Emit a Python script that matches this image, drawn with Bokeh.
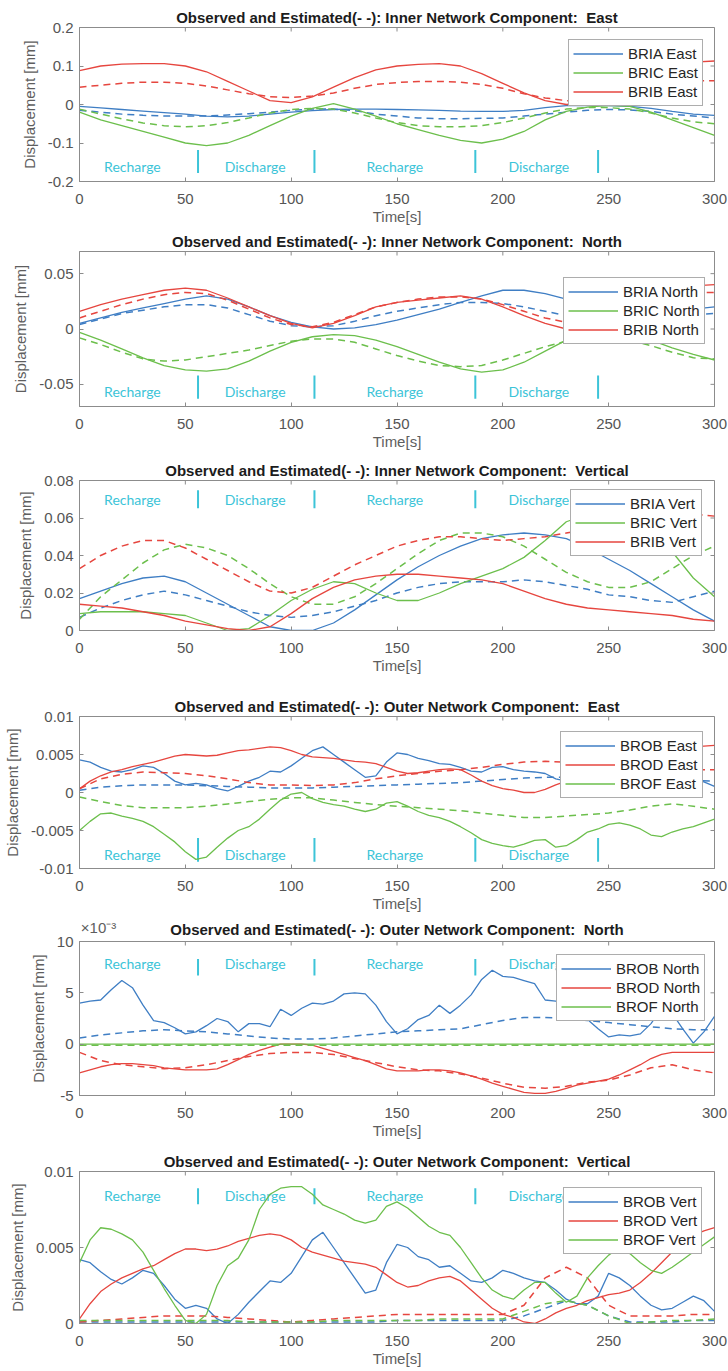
from math import pi

from bokeh.plotting import figure
from bokeh.layouts import column
from bokeh.models import Range1d, FixedTicker, Legend, LegendItem, LinearAxis
from bokeh.embed import file_html
from bokeh.resources import INLINE
from bokeh.core.properties import value

# ---------------------------------------------------------------- time grids
t10 = list(range(0, 301, 10))   # smooth series
t5 = list(range(0, 301, 5))     # detailed observed series (outer network)

# ---------------------------------------------------------------- phases
phase_edges = [56, 111, 187, 245]
phase_names = ["Recharge", "Discharge", "Recharge", "Discharge"]
phase_label_x = [25, 83, 149, 217]

# ---------------------------------------------------------------- inner network, East [mm]
inner_east_bria_obs = [-0.005, -0.009, -0.013, -0.017, -0.021, -0.025, -0.030, -0.032, -0.030, -0.025, -0.020,
                       -0.016, -0.013, -0.012, -0.012, -0.013, -0.014, -0.015, -0.017, -0.018, -0.018, -0.015,
                       -0.008, -0.003, -0.002, -0.003, -0.005, -0.010, -0.018, -0.025, -0.028]
inner_east_bria_est = [-0.015, -0.020, -0.025, -0.028, -0.030, -0.030, -0.030, -0.027, -0.024, -0.020, -0.015,
                       -0.012, -0.012, -0.016, -0.025, -0.030, -0.035, -0.037, -0.037, -0.036, -0.035, -0.030,
                       -0.025, -0.020, -0.015, -0.013, -0.014, -0.018, -0.025, -0.030, -0.035]
inner_east_bric_obs = [-0.020, -0.040, -0.055, -0.070, -0.085, -0.100, -0.107, -0.100, -0.080, -0.055, -0.030,
                       -0.010, 0.002, -0.012, -0.030, -0.050, -0.065, -0.080, -0.093, -0.100, -0.090, -0.070,
                       -0.040, -0.018, -0.007, -0.002, -0.005, -0.020, -0.040, -0.060, -0.080]
inner_east_bric_est = [-0.012, -0.025, -0.037, -0.048, -0.055, -0.058, -0.055, -0.047, -0.035, -0.022, -0.013,
                       -0.010, -0.012, -0.022, -0.035, -0.047, -0.055, -0.058, -0.058, -0.055, -0.047, -0.035,
                       -0.022, -0.012, -0.008, -0.008, -0.012, -0.022, -0.035, -0.045, -0.050]
inner_east_brib_obs = [0.088, 0.100, 0.105, 0.106, 0.106, 0.100, 0.085, 0.060, 0.035, 0.010, 0.005,
                       0.020, 0.045, 0.070, 0.090, 0.100, 0.104, 0.106, 0.100, 0.080, 0.055, 0.030,
                       0.010, 0.000, 0.005, 0.020, 0.050, 0.080, 0.100, 0.110, 0.113]
inner_east_brib_est = [0.045, 0.050, 0.055, 0.058, 0.058, 0.055, 0.048, 0.038, 0.028, 0.020, 0.018,
                       0.022, 0.030, 0.042, 0.052, 0.057, 0.060, 0.060, 0.058, 0.052, 0.042, 0.028,
                       0.017, 0.010, 0.010, 0.020, 0.035, 0.048, 0.057, 0.062, 0.062]

# ---------------------------------------------------------------- inner network, North [mm]
inner_north_bria_obs = [0.005, 0.010, 0.015, 0.019, 0.023, 0.027, 0.030, 0.027, 0.020, 0.012, 0.006,
                        0.002, 0.000, 0.001, 0.004, 0.008, 0.013, 0.018, 0.024, 0.030, 0.035, 0.035,
                        0.032, 0.027, 0.022, 0.017, 0.013, 0.013, 0.015, 0.018, 0.020]
inner_north_bria_est = [0.004, 0.009, 0.014, 0.017, 0.020, 0.022, 0.022, 0.019, 0.013, 0.007, 0.003,
                        0.002, 0.003, 0.007, 0.012, 0.016, 0.019, 0.022, 0.024, 0.024, 0.023, 0.020,
                        0.016, 0.012, 0.008, 0.006, 0.006, 0.008, 0.010, 0.013, 0.014]
inner_north_bric_obs = [-0.003, -0.010, -0.018, -0.026, -0.033, -0.037, -0.038, -0.036, -0.029, -0.020, -0.012,
                        -0.007, -0.005, -0.006, -0.010, -0.016, -0.023, -0.030, -0.036, -0.039, -0.037, -0.030,
                        -0.020, -0.010, -0.003, 0.000, -0.003, -0.010, -0.017, -0.023, -0.028]
inner_north_bric_est = [-0.008, -0.014, -0.021, -0.027, -0.029, -0.028, -0.025, -0.022, -0.019, -0.015, -0.011,
                        -0.009, -0.009, -0.012, -0.018, -0.024, -0.029, -0.033, -0.034, -0.033, -0.028, -0.022,
                        -0.016, -0.011, -0.009, -0.009, -0.010, -0.015, -0.021, -0.026, -0.027]
inner_north_brib_obs = [0.016, 0.022, 0.027, 0.031, 0.035, 0.037, 0.035, 0.028, 0.020, 0.012, 0.005,
                        0.001, 0.005, 0.012, 0.020, 0.024, 0.026, 0.028, 0.030, 0.027, 0.020, 0.012,
                        0.005, 0.000, 0.002, 0.008, 0.018, 0.027, 0.034, 0.039, 0.040]
inner_north_brib_est = [0.010, 0.016, 0.022, 0.027, 0.031, 0.033, 0.032, 0.026, 0.018, 0.010, 0.004,
                        0.002, 0.006, 0.013, 0.020, 0.024, 0.027, 0.029, 0.029, 0.027, 0.022, 0.016,
                        0.010, 0.006, 0.006, 0.010, 0.017, 0.024, 0.029, 0.033, 0.033]

# ---------------------------------------------------------------- inner network, Vertical [mm]
inner_vert_bria_obs = [0.017, 0.021, 0.025, 0.028, 0.029, 0.026, 0.020, 0.014, 0.008, 0.002, 0.000,
                       0.000, 0.004, 0.011, 0.019, 0.027, 0.034, 0.040, 0.045, 0.049, 0.051, 0.052,
                       0.051, 0.049, 0.044, 0.038, 0.032, 0.025, 0.018, 0.011, 0.005]
inner_vert_bria_est = [0.007, 0.012, 0.016, 0.019, 0.021, 0.019, 0.016, 0.013, 0.010, 0.008, 0.007,
                       0.008, 0.010, 0.013, 0.016, 0.020, 0.023, 0.025, 0.026, 0.026, 0.026, 0.027,
                       0.026, 0.024, 0.022, 0.019, 0.018, 0.016, 0.015, 0.018, 0.021]
inner_vert_bric_obs = [0.009, 0.010, 0.010, 0.010, 0.009, 0.008, 0.004, 0.000, 0.001, 0.008, 0.016,
                       0.022, 0.026, 0.025, 0.020, 0.016, 0.016, 0.020, 0.025, 0.029, 0.033, 0.039,
                       0.048, 0.058, 0.062, 0.063, 0.060, 0.053, 0.042, 0.028, 0.018]
inner_vert_bric_est = [0.006, 0.018, 0.027, 0.036, 0.043, 0.046, 0.044, 0.040, 0.033, 0.025, 0.018,
                       0.014, 0.014, 0.018, 0.025, 0.033, 0.041, 0.048, 0.052, 0.052, 0.050, 0.045,
                       0.038, 0.031, 0.026, 0.023, 0.023, 0.026, 0.033, 0.040, 0.045]
inner_vert_brib_obs = [0.014, 0.013, 0.012, 0.010, 0.008, 0.005, 0.003, 0.001, 0.000, 0.002, 0.009,
                       0.017, 0.023, 0.027, 0.029, 0.030, 0.030, 0.029, 0.028, 0.027, 0.025, 0.021,
                       0.017, 0.014, 0.012, 0.011, 0.010, 0.009, 0.008, 0.006, 0.005]
inner_vert_brib_est = [0.033, 0.040, 0.045, 0.048, 0.048, 0.044, 0.038, 0.032, 0.026, 0.021, 0.020,
                       0.023, 0.029, 0.035, 0.040, 0.045, 0.048, 0.050, 0.050, 0.049, 0.048, 0.049,
                       0.050, 0.052, 0.054, 0.056, 0.058, 0.060, 0.062, 0.062, 0.061]

# ---------------------------------------------------------------- outer network, East [mm]
outer_east_brob_obs = [0.0043, 0.0040, 0.0033, 0.0028, 0.0027, 0.0030, 0.0035, 0.0033, 0.0025, 0.0015,
                       0.0010, 0.0012, 0.0010, 0.0005, 0.0002, 0.0008, 0.0015, 0.0020, 0.0028, 0.0027,
                       0.0035, 0.0045, 0.0055, 0.0060, 0.0050, 0.0040, 0.0030, 0.0020, 0.0022, 0.0040,
                       0.0052, 0.0050, 0.0045, 0.0042, 0.0038, 0.0037, 0.0033, 0.0028, 0.0027, 0.0033,
                       0.0034, 0.0030, 0.0028, 0.0027, 0.0025, 0.0018, 0.0015, 0.0013, 0.0015, 0.0018,
                       0.0020, 0.0022, 0.0020, 0.0018, 0.0017, 0.0020, 0.0022, 0.0020, 0.0017, 0.0014, 0.0008]
outer_east_brod_obs = [0.0005, 0.0015, 0.0022, 0.0027, 0.0030, 0.0034, 0.0037, 0.0040, 0.0044, 0.0048,
                       0.0050, 0.0049, 0.0048, 0.0049, 0.0052, 0.0055, 0.0056, 0.0058, 0.0060, 0.0059,
                       0.0055, 0.0050, 0.0047, 0.0046, 0.0045, 0.0043, 0.0041, 0.0040, 0.0038, 0.0033,
                       0.0028, 0.0025, 0.0026, 0.0028, 0.0030, 0.0031, 0.0030, 0.0023, 0.0015, 0.0009,
                       0.0005, 0.0003, 0.0000, 0.0000, 0.0004, 0.0010, 0.0015, 0.0020, 0.0025, 0.0030,
                       0.0035, 0.0040, 0.0045, 0.0050, 0.0053, 0.0055, 0.0057, 0.0058, 0.0060, 0.0061, 0.0062]
outer_east_brof_obs = [-0.0050, -0.0038, -0.0028, -0.0027, -0.0031, -0.0034, -0.0038, -0.0045, -0.0055, -0.0065,
                       -0.0078, -0.0088, -0.0085, -0.0072, -0.0060, -0.0050, -0.0045, -0.0035, -0.0022, -0.0010,
                       -0.0002, 0.0000, -0.0008, -0.0013, -0.0016, -0.0018, -0.0022, -0.0025, -0.0022, -0.0014,
                       -0.0012, -0.0018, -0.0025, -0.0030, -0.0033, -0.0038, -0.0045, -0.0053, -0.0062, -0.0067,
                       -0.0070, -0.0072, -0.0068, -0.0063, -0.0062, -0.0072, -0.0070, -0.0062, -0.0052, -0.0048,
                       -0.0042, -0.0040, -0.0043, -0.0048, -0.0056, -0.0058, -0.0052, -0.0048, -0.0045, -0.0040, -0.0035]
outer_east_brob_est = [0.0003, 0.0007, 0.0009, 0.0010, 0.0010, 0.0010, 0.0009, 0.0008, 0.0007, 0.0006, 0.0006,
                       0.0006, 0.0007, 0.0008, 0.0009, 0.0010, 0.0011, 0.0012, 0.0013, 0.0015, 0.0017, 0.0019,
                       0.0020, 0.0020, 0.0020, 0.0019, 0.0018, 0.0017, 0.0016, 0.0016, 0.0015]
outer_east_brod_est = [0.0005, 0.0018, 0.0024, 0.0027, 0.0026, 0.0025, 0.0022, 0.0018, 0.0013, 0.0010, 0.0010,
                       0.0009, 0.0010, 0.0013, 0.0018, 0.0022, 0.0025, 0.0028, 0.0030, 0.0033, 0.0037, 0.0040,
                       0.0041, 0.0040, 0.0037, 0.0034, 0.0032, 0.0030, 0.0030, 0.0030, 0.0030]
outer_east_brof_est = [-0.0006, -0.0012, -0.0017, -0.0020, -0.0020, -0.0020, -0.0018, -0.0015, -0.0012, -0.0009,
                       -0.0007, -0.0007, -0.0010, -0.0013, -0.0016, -0.0018, -0.0020, -0.0022, -0.0024, -0.0027,
                       -0.0030, -0.0033, -0.0033, -0.0031, -0.0029, -0.0027, -0.0023, -0.0018, -0.0015, -0.0018,
                       -0.0022]

# ---------------------------------------------------------------- outer network, North [x10^-3 mm]
outer_north_brob_obs = [4.0, 4.2, 4.3, 5.3, 6.2, 5.5, 3.8, 2.3, 2.1, 1.6,
                        1.0, 1.2, 1.8, 2.5, 2.2, 1.2, 2.0, 2.0, 1.7, 3.4,
                        2.8, 3.5, 4.0, 3.9, 4.2, 4.9, 5.0, 4.9, 3.8, 2.2,
                        1.0, 1.5, 2.4, 2.8, 3.8, 3.0, 3.8, 4.8, 6.3, 7.2,
                        6.6, 6.5, 6.2, 5.9, 4.3, 4.2, 3.5, 2.8, 2.4, 1.5,
                        0.7, 0.9, 0.8, 1.0, 2.0, 3.5, 3.0, 1.5, 0.1, 1.2, 2.7]
outer_north_brod_obs = [-2.8, -2.5, -2.2, -2.0, -1.9, -1.9, -2.0, -2.1, -2.3, -2.4,
                        -2.5, -2.5, -2.5, -2.4, -2.0, -1.5, -1.0, -0.6, -0.3, 0.0,
                        0.0, 0.0, -0.1, -0.4, -0.7, -1.0, -1.3, -1.6, -2.0, -2.4,
                        -2.6, -2.6, -2.6, -2.5, -2.5, -2.6, -2.8, -3.1, -3.4, -3.8,
                        -4.1, -4.4, -4.7, -4.8, -4.8, -4.6, -4.3, -4.0, -3.8, -3.6,
                        -3.4, -3.0, -2.5, -2.0, -1.4, -1.0, -0.8, -0.8, -0.8, -0.8, -0.8]
outer_north_brof_obs = [0.0, 0.0, 0.0, 0.0, 0.0, 0.0, 0.0, 0.0, 0.0, 0.0, 0.0,
                        0.0, 0.0, 0.0, 0.0, 0.0, 0.0, 0.0, 0.0, 0.0, 0.0, 0.0,
                        0.0, 0.0, 0.0, 0.0, 0.0, 0.0, 0.0, 0.0, 0.0]
outer_north_brob_est = [0.6, 0.9, 1.1, 1.3, 1.4, 1.3, 1.2, 1.0, 0.8, 0.6, 0.5,
                        0.5, 0.6, 0.8, 1.0, 1.2, 1.3, 1.4, 1.5, 1.9, 2.3, 2.6,
                        2.6, 2.5, 2.3, 2.1, 1.9, 1.7, 1.5, 1.4, 1.4]
outer_north_brod_est = [-0.8, -1.6, -2.0, -2.2, -2.4, -2.3, -2.0, -1.6, -1.2, -0.9, -0.8,
                        -0.8, -1.0, -1.4, -1.8, -2.2, -2.5, -2.6, -2.9, -3.3, -3.8, -4.2,
                        -4.3, -4.1, -3.7, -3.5, -3.0, -2.3, -2.0, -2.5, -2.8]
outer_north_brof_est = [-0.1, -0.1, -0.1, -0.1, -0.1, -0.1, -0.1, -0.1, -0.1, -0.1, -0.1,
                        -0.1, -0.1, -0.1, -0.1, -0.1, -0.1, -0.1, -0.1, -0.1, -0.1, -0.1,
                        -0.1, -0.1, -0.1, -0.1, -0.1, -0.1, -0.1, -0.1, -0.1]

# ---------------------------------------------------------------- outer network, Vertical [mm]
outer_vert_brob_obs = [0.0042, 0.0040, 0.0034, 0.0029, 0.0026, 0.0030, 0.0035, 0.0033, 0.0025, 0.0016,
                       0.0010, 0.0012, 0.0010, 0.0003, 0.0000, 0.0006, 0.0014, 0.0021, 0.0028, 0.0027,
                       0.0033, 0.0044, 0.0055, 0.0060, 0.0050, 0.0040, 0.0030, 0.0020, 0.0022, 0.0040,
                       0.0052, 0.0050, 0.0044, 0.0042, 0.0037, 0.0038, 0.0033, 0.0028, 0.0027, 0.0030,
                       0.0035, 0.0033, 0.0030, 0.0028, 0.0027, 0.0022, 0.0016, 0.0013, 0.0013, 0.0018,
                       0.0033, 0.0030, 0.0025, 0.0018, 0.0012, 0.0009, 0.0010, 0.0014, 0.0018, 0.0015, 0.0008]
outer_vert_brod_obs = [0.0003, 0.0013, 0.0021, 0.0026, 0.0030, 0.0033, 0.0036, 0.0038, 0.0042, 0.0046,
                       0.0049, 0.0049, 0.0048, 0.0049, 0.0051, 0.0054, 0.0056, 0.0058, 0.0059, 0.0058,
                       0.0055, 0.0050, 0.0047, 0.0045, 0.0043, 0.0041, 0.0040, 0.0039, 0.0037, 0.0032,
                       0.0027, 0.0024, 0.0025, 0.0028, 0.0030, 0.0031, 0.0028, 0.0022, 0.0016, 0.0010,
                       0.0006, 0.0004, 0.0001, 0.0000, 0.0003, 0.0007, 0.0010, 0.0012, 0.0015, 0.0017,
                       0.0019, 0.0020, 0.0022, 0.0027, 0.0033, 0.0040, 0.0047, 0.0053, 0.0058, 0.0061, 0.0063]
outer_vert_brof_obs = [0.0040, 0.0055, 0.0063, 0.0062, 0.0059, 0.0055, 0.0047, 0.0035, 0.0023, 0.0012,
                       0.0002, 0.0000, 0.0006, 0.0025, 0.0038, 0.0043, 0.0055, 0.0075, 0.0085, 0.0089,
                       0.0090, 0.0090, 0.0085, 0.0078, 0.0075, 0.0072, 0.0068, 0.0066, 0.0068, 0.0077,
                       0.0080, 0.0076, 0.0070, 0.0064, 0.0060, 0.0058, 0.0050, 0.0040, 0.0030, 0.0022,
                       0.0018, 0.0016, 0.0022, 0.0027, 0.0027, 0.0020, 0.0014, 0.0018, 0.0030, 0.0038,
                       0.0045, 0.0050, 0.0046, 0.0040, 0.0035, 0.0033, 0.0037, 0.0042, 0.0047, 0.0052, 0.0057]
outer_vert_brob_est = [0.0001, 0.0001, 0.0001, 0.0001, 0.0001, 0.0001, 0.0001, 0.0001, 0.0001, 0.0001, 0.0001,
                       0.0001, 0.0001, 0.0001, 0.0001, 0.0002, 0.0002, 0.0002, 0.0002, 0.0002, 0.0002, 0.0005,
                       0.0010, 0.0015, 0.0012, 0.0005, 0.0001, 0.0001, 0.0001, 0.0002, 0.0002]
outer_vert_brod_est = [0.0001, 0.0002, 0.0003, 0.0004, 0.0005, 0.0005, 0.0005, 0.0004, 0.0003, 0.0002, 0.0001,
                       0.0002, 0.0003, 0.0004, 0.0005, 0.0006, 0.0006, 0.0006, 0.0006, 0.0006, 0.0006, 0.0012,
                       0.0030, 0.0037, 0.0030, 0.0012, 0.0005, 0.0005, 0.0005, 0.0006, 0.0006]
outer_vert_brof_est = [0.0002, 0.0002, 0.0002, 0.0002, 0.0002, 0.0002, 0.0002, 0.0002, 0.0001, 0.0001, 0.0001,
                       0.0001, 0.0002, 0.0002, 0.0002, 0.0002, 0.0002, 0.0003, 0.0003, 0.0003, 0.0003, 0.0008,
                       0.0013, 0.0015, 0.0012, 0.0005, 0.0000, 0.0001, 0.0002, 0.0002, 0.0003]

# ---------------------------------------------------------------- axis ticks
east_in_ticks = [-0.2, -0.1, 0, 0.1, 0.2]
east_in_tick_labels = ["-0.2", "-0.1", "0", "0.1", "0.2"]
north_in_ticks = [-0.05, 0, 0.05]
north_in_tick_labels = ["-0.05", "0", "0.05"]
vert_in_ticks = [0, 0.02, 0.04, 0.06, 0.08]
vert_in_tick_labels = ["0", "0.02", "0.04", "0.06", "0.08"]
east_out_ticks = [-0.01, -0.005, 0, 0.005, 0.01]
east_out_tick_labels = ["-0.01", "-0.005", "0", "0.005", "0.01"]
north_out_ticks = [-5, 0, 5, 10]
north_out_tick_labels = ["-5", "0", "5", "10"]
vert_out_ticks = [0, 0.005, 0.01]
vert_out_tick_labels = ["0", "0.005", "0.01"]
time_ticks = [0, 50, 100, 150, 200, 250, 300]
exponent_text = "×10⁻³"

# ---------------------------------------------------------------- styling
BLUE = "#3f7ec4"
GREEN = "#6cbf4c"
RED = "#e6463f"
CYAN = "#3cc4d8"
FRAME = "#8c8c8c"
TICK_TEXT = "#555555"
LABEL_TEXT = "#5e5e5e"
TITLE_TEXT = "#1c1c1c"
FONT = "Liberation Sans"
FS = "15px"
W = 728
FRAME_LEFT = 78
FRAME_RIGHT = 14
LEGEND_H = 65

# two spaces before the component name, kept with a no-break space
TITLE = "Observed and Estimated(- -): {} Network Component:\u00a0 {}"

panels = [
    dict(title=TITLE.format("Inner", "East"), h=229, top=27, bottom=48,
         yr=(-0.2, 0.2), ticks=east_in_ticks, tick_labels=east_in_tick_labels,
         phase_y=-0.16, bar=(-0.118, -0.178), leg_top=14, leg_w=132,
         series=[("BRIA East", BLUE, t10, inner_east_bria_obs, inner_east_bria_est),
                 ("BRIC East", GREEN, t10, inner_east_bric_obs, inner_east_bric_est),
                 ("BRIB East", RED, t10, inner_east_brib_obs, inner_east_brib_est)]),
    dict(title=TITLE.format("Inner", "North"), h=226, top=22, bottom=49,
         yr=(-0.07, 0.07), ticks=north_in_ticks, tick_labels=north_in_tick_labels,
         phase_y=-0.056, bar=(-0.042, -0.063), leg_top=28, leg_w=137,
         series=[("BRIA North", BLUE, t10, inner_north_bria_obs, inner_north_bria_est),
                 ("BRIC North", GREEN, t10, inner_north_bric_obs, inner_north_bric_est),
                 ("BRIB North", RED, t10, inner_north_brib_obs, inner_north_brib_est)]),
    dict(title=TITLE.format("Inner", "Vertical"), h=235, top=25, bottom=60,
         yr=(0, 0.08), ticks=vert_in_ticks, tick_labels=vert_in_tick_labels,
         phase_y=0.0700, bar=(0.0652, 0.0748), leg_top=11, leg_w=130,
         series=[("BRIA Vert", BLUE, t10, inner_vert_bria_obs, inner_vert_bria_est),
                 ("BRIC Vert", GREEN, t10, inner_vert_bric_obs, inner_vert_bric_est),
                 ("BRIB Vert", RED, t10, inner_vert_brib_obs, inner_vert_brib_est)]),
    dict(title=TITLE.format("Outer", "East"), h=226, top=26, bottom=48,
         yr=(-0.01, 0.01), ticks=east_out_ticks, tick_labels=east_out_tick_labels,
         phase_y=-0.0081, bar=(-0.0060, -0.0091), leg_top=17, leg_w=140,
         series=[("BROB East", BLUE, t5, outer_east_brob_obs, outer_east_brob_est),
                 ("BROD East", RED, t5, outer_east_brod_obs, outer_east_brod_est),
                 ("BROF East", GREEN, t5, outer_east_brof_obs, outer_east_brof_est)]),
    dict(title=TITLE.format("Outer", "North"), h=229, top=25, bottom=50,
         yr=(-5, 10), ticks=north_out_ticks, tick_labels=north_out_tick_labels,
         phase_y=7.9, bar=(6.7, 8.3), leg_top=15, leg_w=144, exponent=True,
         series=[("BROB North", BLUE, t5, outer_north_brob_obs, outer_north_brob_est),
                 ("BROD North", RED, t5, outer_north_brod_obs, outer_north_brod_est),
                 ("BROF North", GREEN, t10, outer_north_brof_obs, outer_north_brof_est)]),
    dict(title=TITLE.format("Outer", "Vertical"), h=226, top=26, bottom=48,
         yr=(0, 0.01), ticks=vert_out_ticks, tick_labels=vert_out_tick_labels,
         phase_y=0.0084, bar=(0.00785, 0.0089), leg_top=18, leg_w=137,
         series=[("BROB Vert", BLUE, t5, outer_vert_brob_obs, outer_vert_brob_est),
                 ("BROD Vert", RED, t5, outer_vert_brod_obs, outer_vert_brod_est),
                 ("BROF Vert", GREEN, t5, outer_vert_brof_obs, outer_vert_brof_est)]),
]


def style_axis(ax):
    ax.axis_line_color = FRAME
    ax.major_tick_line_color = FRAME
    ax.major_tick_in = 4
    ax.major_tick_out = 0
    ax.minor_tick_line_color = None
    ax.major_label_text_font = FONT
    ax.major_label_text_font_size = FS
    ax.major_label_text_color = TICK_TEXT
    ax.axis_label_text_font = FONT
    ax.axis_label_text_font_size = FS
    ax.axis_label_text_font_style = "normal"
    ax.axis_label_text_color = LABEL_TEXT


def add_exponent_header(p, title):
    # the scale factor sits at the top-left corner of the box, level with the title:
    # an unlined top axis carries it as its only tick label and the title as its label
    p.title.text = ""
    ax = LinearAxis(ticker=FixedTicker(ticks=[9]), major_label_overrides={9: exponent_text},
                    axis_label=title)
    ax.axis_line_color = None
    ax.major_tick_line_color = None
    ax.major_tick_in = 0
    ax.major_tick_out = 0
    ax.minor_tick_line_color = None
    ax.major_label_standoff = 6
    ax.major_label_text_font = FONT
    ax.major_label_text_font_size = "15px"
    ax.major_label_text_color = LABEL_TEXT
    ax.axis_label_standoff = -22
    ax.axis_label_text_font = FONT
    ax.axis_label_text_font_size = FS
    ax.axis_label_text_font_style = "bold"
    ax.axis_label_text_color = TITLE_TEXT
    p.add_layout(ax, "above")


def make_panel(cfg):
    y0, y1 = cfg["yr"]
    p = figure(width=W, height=cfg["h"], x_range=Range1d(0, 300), y_range=Range1d(y0, y1),
               output_backend="svg", toolbar_location=None,
               min_border_left=FRAME_LEFT, min_border_right=FRAME_RIGHT,
               min_border_top=cfg["top"], min_border_bottom=cfg["bottom"],
               x_axis_label="Time[s]", y_axis_label="Displacement [mm]")
    p.title.text = cfg["title"]
    p.title.align = "center"
    p.title.text_font = FONT
    p.title.text_font_size = FS
    p.title.text_font_style = "bold"
    p.title.text_color = TITLE_TEXT
    p.title.standoff = 3
    p.grid.visible = False
    p.outline_line_color = FRAME
    p.background_fill_color = "white"
    p.border_fill_color = "white"

    p.xaxis.ticker = FixedTicker(ticks=time_ticks)
    p.yaxis.ticker = FixedTicker(ticks=cfg["ticks"])
    style_axis(p.xaxis[0])
    style_axis(p.yaxis[0])
    p.xaxis.major_label_standoff = 12
    p.xaxis.axis_label_standoff = 1
    p.yaxis.major_label_standoff = 6
    p.yaxis.axis_label_standoff = 7
    p.yaxis.major_label_overrides = dict(zip(cfg["ticks"], cfg["tick_labels"]))

    if cfg.get("exponent"):
        add_exponent_header(p, cfg["title"])

    # inward tick marks on the top and right edges of the box
    p.ray(x=time_ticks, y=y1, length=4, angle=-pi / 2, length_units="screen",
          line_color=FRAME, line_width=1)
    p.ray(x=300, y=cfg["ticks"], length=4, angle=pi, length_units="screen",
          line_color=FRAME, line_width=1)

    # recharge / discharge phases
    p.segment(x0=phase_edges, y0=cfg["bar"][0], x1=phase_edges, y1=cfg["bar"][1],
              line_color=CYAN, line_width=2)
    p.text(x=phase_label_x, y=cfg["phase_y"], text=phase_names,
           text_font=value("Lato"), text_font_size="14px", text_color=CYAN,
           text_align="center", text_baseline="middle")

    items = []
    for label, color, t_obs, obs, est in cfg["series"]:
        r = p.line(t_obs, obs, line_color=color, line_width=1.3)
        p.line(t10, est, line_color=color, line_width=1.5, line_dash="7 5")
        items.append(LegendItem(label=label, renderers=[r]))

    frame_h = cfg["h"] - cfg["top"] - cfg["bottom"]
    frame_w = W - FRAME_LEFT - FRAME_RIGHT
    leg = Legend(items=items,
                 location=(frame_w - 15 - cfg["leg_w"], frame_h - cfg["leg_top"] - LEGEND_H),
                 padding=4, spacing=0, margin=0,
                 glyph_width=50, glyph_height=19, label_height=19, label_standoff=5,
                 label_width=cfg["leg_w"] - 63,
                 label_text_font=FONT, label_text_font_size=FS, label_text_color="#262626",
                 border_line_color="#5c5c5c", border_line_width=1,
                 background_fill_color="white", background_fill_alpha=1.0)
    p.add_layout(leg)
    return p


layout = column([make_panel(c) for c in panels], spacing=0)
open("out.html", "w").write(file_html(layout, INLINE))
